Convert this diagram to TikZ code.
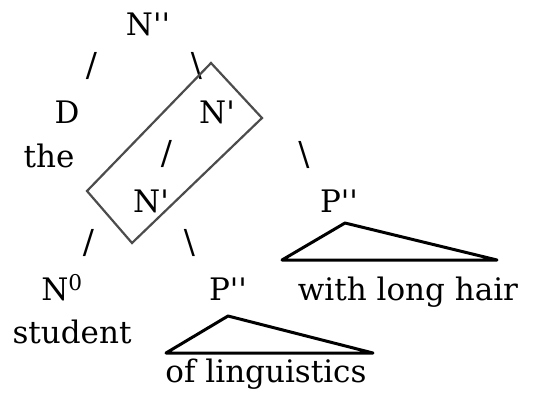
\documentclass[tikz,border=0pt]{standalone}
\usepackage{fontspec}
\setmainfont{DejaVu Serif}
\newcommand{\pp}{\textquotesingle\textquotesingle}
\newcommand{\p}{\textquotesingle}
\begin{document}
\begin{tikzpicture}[x=1pt,y=-1pt,
  lab/.style={font=\fontsize{31}{36}\selectfont, inner sep=0pt, anchor=base},
  slsh/.style={font=\fontsize{33}{40}\selectfont, inner sep=0pt},
  box/.style={draw=black!70, line width=2.2pt, line join=miter},
  tri/.style={draw=black, line width=3pt, line join=round}]
\useasboundingbox (0,0) rectangle (543,392);
% labels
\node[lab] (Npp) at (148,35) {N\pp};
\node[lab] (D) at (67,123) {D};
\node[lab] (the) at (49,167) {the};
\node[lab] (Np1) at (217,123) {N\p};
\node[lab] (Np2) at (151,212) {N\p};
\node[lab] (Ppr) at (339,212) {P\pp};
\node[lab] (N0) at (62,300) {N\textsuperscript{0}};
\node[lab] (Ppl) at (228,300) {P\pp};
\node[lab] (hair) at (408,300) {with long hair};
\node[lab] (stud) at (72,343) {student};
\node[lab] (ling) at (266,382) {of linguistics};
% slashes
\node[slsh] (s1) at (91.5,66) {/};
\node[slsh] (s2) at (196.5,66) {\textbackslash};
\node[slsh] (s3) at (166.5,154) {/};
\node[slsh] (s4) at (304,154.5) {\textbackslash};
\node[slsh] (s5) at (88.5,242.5) {/};
\node[slsh] (s6) at (189.5,242.5) {\textbackslash};
% rotated box
\coordinate (bt) at (211,63);
\coordinate (br) at (262,118);
\coordinate (bb) at (132,243);
\coordinate (bl) at (87,191);
\draw[box] (bt) -- (br) -- (bb) -- (bl) -- cycle;
% triangles
\coordinate (t1a) at (345,223);
\coordinate (t1l) at (282,260);
\coordinate (t1r) at (497,260);
\draw[tri] (t1a) -- (t1r) -- (t1l) -- cycle;
\coordinate (t2a) at (228,316);
\coordinate (t2l) at (166,353);
\coordinate (t2r) at (373,353);
\draw[tri] (t2a) -- (t2r) -- (t2l) -- cycle;
\end{tikzpicture}
\end{document}
